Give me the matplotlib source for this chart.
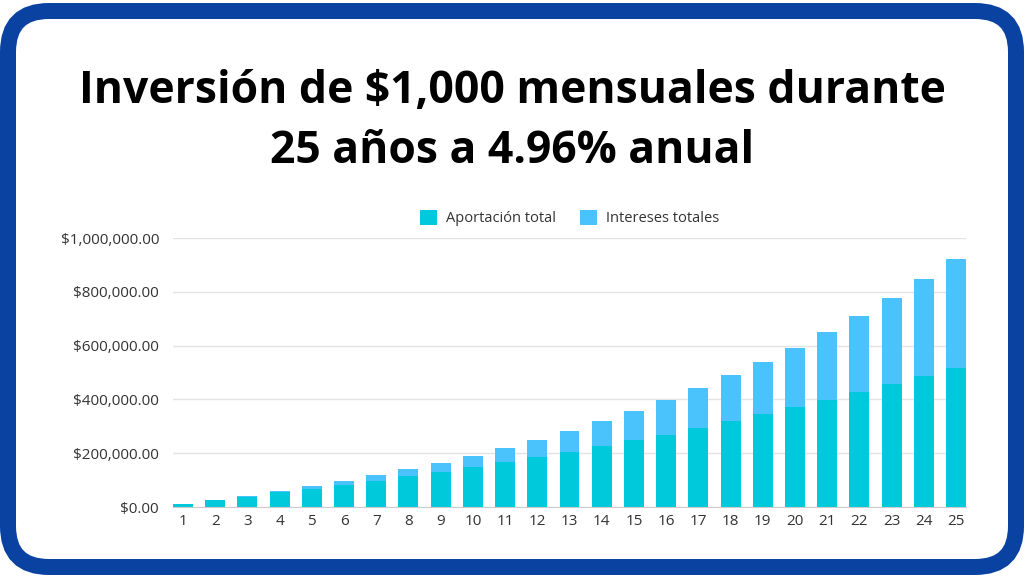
import numpy as np
import matplotlib
matplotlib.use("Agg")
import matplotlib.pyplot as plt
from matplotlib.patches import FancyBboxPatch
from matplotlib.ticker import FuncFormatter

# valores
anios = list(range(1, 26))
aportacion = [12000, 24500, 38000, 55000, 67000, 80500, 95000, 114000, 130000, 147000,
              166000, 186000, 206000, 228000, 248000, 269000, 295000, 320000, 344000, 370000,
              398000, 426000, 456000, 487000, 518000]
total = [12400, 26000, 42000, 58000, 77000, 97000, 118000, 141000, 165000, 191000,
         219000, 250000, 284000, 320000, 357000, 398000, 441000, 489000, 539000, 592000,
         651000, 711000, 777000, 846000, 922000]
intereses = [t - a for t, a in zip(total, aportacion)]

titulo = ["Inversión de $1,000 mensuales durante", "25 años a 4.96% anual"]
etiquetas = ["Aportación total", "Intereses totales"]
colores = ["#00c9db", "#4ac3fd"]

plt.rcParams['font.family'] = ['Open Sans', 'DejaVu Sans']

W, H = 1024, 576
fig = plt.figure(figsize=(W / 100, H / 100), dpi=100)
fig.patch.set_facecolor("white")

# marco azul redondeado
marco = FancyBboxPatch((8 / W, 9 / H), 1008 / W, 556 / H,
                       boxstyle="round,pad=0,rounding_size=0.04",
                       transform=fig.transFigure, facecolor="white",
                       edgecolor="#0a42a2", linewidth=16 * 72 / 100,
                       mutation_aspect=W / H, zorder=-5)
fig.patches.append(marco)

for linea, yb in zip(titulo, [103, 163]):
    fig.text(0.5, 1 - yb / H, linea, ha="center", va="baseline",
             fontsize=32, fontweight="bold", color="black")

ax = fig.add_axes([173 / W, 1 - 507 / H, (966 - 173) / W, (507 - 238) / H])
ax.set_zorder(2)
ax.patch.set_alpha(0)
x = np.array(anios)
ax.bar(x, aportacion, width=0.62, color=colores[0], label=etiquetas[0], zorder=3)
ax.bar(x, intereses, width=0.62, bottom=aportacion, color=colores[1],
       label=etiquetas[1], zorder=3)

ax.set_xlim(1 - 0.31, 25 + 0.31)
ax.set_ylim(0, 1000000)
ax.set_yticks(np.arange(0, 1000001, 200000))
ax.yaxis.set_major_formatter(FuncFormatter(lambda v, p: "${:,.2f}".format(v)))
ax.set_xticks(x)
ax.tick_params(axis="both", length=0, labelsize=11, colors="#333333")
ax.tick_params(axis="y", pad=10)
ax.tick_params(axis="x", pad=5)
ax.grid(axis="y", color="#e3e3e3", linewidth=1, zorder=0)
for s in ["top", "right", "left"]:
    ax.spines[s].set_visible(False)
ax.spines["bottom"].set_color("#cccccc")
ax.spines["bottom"].set_zorder(4)

ax.legend(loc="lower center", bbox_to_anchor=(0.5, 0.995), ncol=2, frameon=False,
          fontsize=10.5, handlelength=1.2, handleheight=1.2, columnspacing=1.6,
          handletextpad=0.6, labelcolor="#333333")

fig.savefig("out.png", dpi=100)
